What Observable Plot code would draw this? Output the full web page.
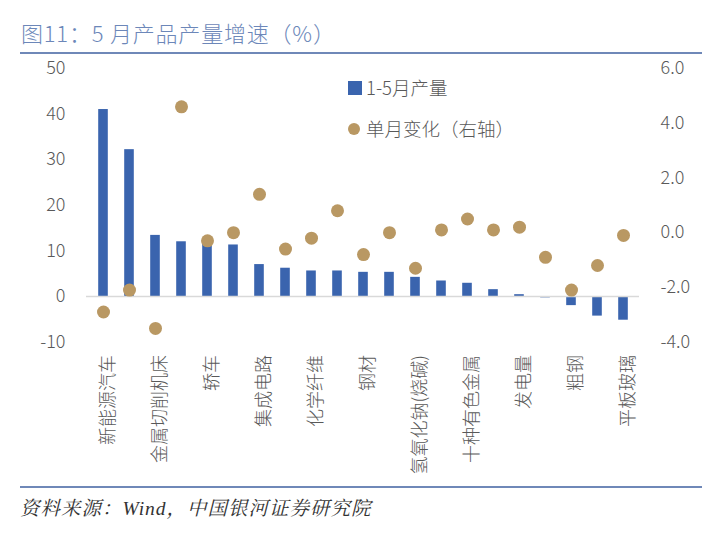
<!DOCTYPE html>
<html><head><meta charset="utf-8">
<script src="https://cdn.jsdelivr.net/npm/d3@7"></script>
<script src="https://cdn.jsdelivr.net/npm/@observablehq/plot@0.6"></script>
<style>
body{margin:0;background:#fff;}
#wrap{position:relative;width:712px;height:535px;overflow:hidden;font-family:"Noto Sans CJK SC","Noto Sans",sans-serif;font-weight:300;}
#title{position:absolute;left:21px;top:16px;font-size:22px;color:#6C87B9;letter-spacing:0.8px;white-space:nowrap;}
.hr{position:absolute;left:20px;width:682px;height:2px;background:#6F88B8;}
#chart{position:absolute;left:0;top:55px;}
.leg{position:absolute;font-size:18.5px;color:#595959;white-space:nowrap;}
#caption{position:absolute;left:20px;top:493px;font-size:19.5px;letter-spacing:1px;color:#333;font-style:italic;font-family:"Liberation Serif","Noto Serif CJK SC","Noto Sans CJK SC",serif;font-weight:400;white-space:nowrap;}
</style></head>
<body>
<div id="wrap">
  <div id="title">图11：5 月产品产量增速（%）</div>
  <div class="hr" style="top:52px"></div>
  <div id="chart"></div>
  <div class="leg" style="left:348px;top:81px;width:14px;height:14px;background:#3A64AE"></div>
  <div class="leg" style="left:366px;top:74px;">1-5月产量</div>
  <div class="leg" style="left:348px;top:123px;width:12px;height:12px;border-radius:50%;background:#B99863"></div>
  <div class="leg" style="left:366px;top:115px;">单月变化（右轴）</div>
  <div class="hr" style="top:486px"></div>
  <div id="caption">资料来源：Wind，中国银河证券研究院</div>
</div>
<script>
const categories = ["新能源汽车","太阳能电池","金属切削机床","汽车","轿车","工业机器人","集成电路","乙烯","化学纤维","硫酸","钢材","原油加工量","氢氧化钠(烧碱)","纯碱","十种有色金属","天然气","发电量","原煤","粗钢","水泥","平板玻璃"];
const production = [41.0, 32.2, 13.4, 12.0, 11.9, 11.3, 7.0, 6.2, 5.6, 5.6, 5.3, 5.3, 4.2, 3.4, 2.9, 1.5, 0.4, -0.3, -2.0, -4.3, -5.2];
const monthlyChange = [-2.9, -2.1, -3.5, 4.6, -0.3, 0.0, 1.4, -0.6, -0.2, 0.8, -0.8, 0.0, -1.3, 0.1, 0.5, 0.1, 0.2, -0.9, -2.1, -1.2, -0.1];
const leftTicks = [-10, 0, 10, 20, 30, 40, 50];
const rightTicks = [-4, -2, 0, 2, 4, 6];

// map right-axis values onto the left-axis scale: [-4,6] -> [-10,50]
const toLeft = v => -10 + (v + 4) * 6;
const fromLeft = d => Math.round(((d + 10) / 6 - 4) * 10) / 10;

const rows = categories.map((c, i) => ({c, p: production[i], m: monthlyChange[i], i}));
const labelRows = rows.filter(r => r.i % 2 === 0);

const H = 425;
const chart = Plot.plot({
  width: 712,
  height: H,
  marginLeft: 86,
  marginRight: 73,
  marginTop: 13,
  marginBottom: H - 286.6,
  style: {fontFamily: '"Noto Sans CJK SC","Noto Sans",sans-serif', fontWeight: 300, fontSize: "18px", color: "#595959", background: "transparent", overflow: "visible"},
  x: {domain: categories, padding: 0, axis: null},
  y: {domain: [-10, 50], axis: null},
  marks: [
    Plot.axisY({anchor: "left", ticks: leftTicks, tickSize: 0, tickPadding: 21, tickFormat: d => String(d), label: null, fill: "#595959"}),
    Plot.axisY({anchor: "right", ticks: rightTicks.map(toLeft), tickSize: 0, tickPadding: 21, tickFormat: d => fromLeft(d).toFixed(1), label: null, fill: "#595959"}),
    Plot.ruleX([0], {frameAnchor: "left", stroke: "#D9D9D9", strokeWidth: 1.5}),
    Plot.ruleX([0], {frameAnchor: "right", stroke: "#D9D9D9", strokeWidth: 1.5}),
    Plot.barY(rows, {x: "c", y: "p", fill: "#3A64AE", insetLeft: 8.2, insetRight: 8.2}),
    Plot.ruleY([0], {stroke: "#D9D9D9", strokeWidth: 1.5}),
    Plot.dot(rows, {x: "c", y: d => toLeft(d.m), r: 6.5, fill: "#B99863", stroke: "none"}),
    Plot.text(labelRows, {x: "c", frameAnchor: "bottom", text: "c", rotate: -90, textAnchor: "end", lineAnchor: "middle", dx: 5, dy: 13, fill: "#595959", fontSize: 18})
  ]
});
document.getElementById("chart").appendChild(chart);
</script>
</body></html>
